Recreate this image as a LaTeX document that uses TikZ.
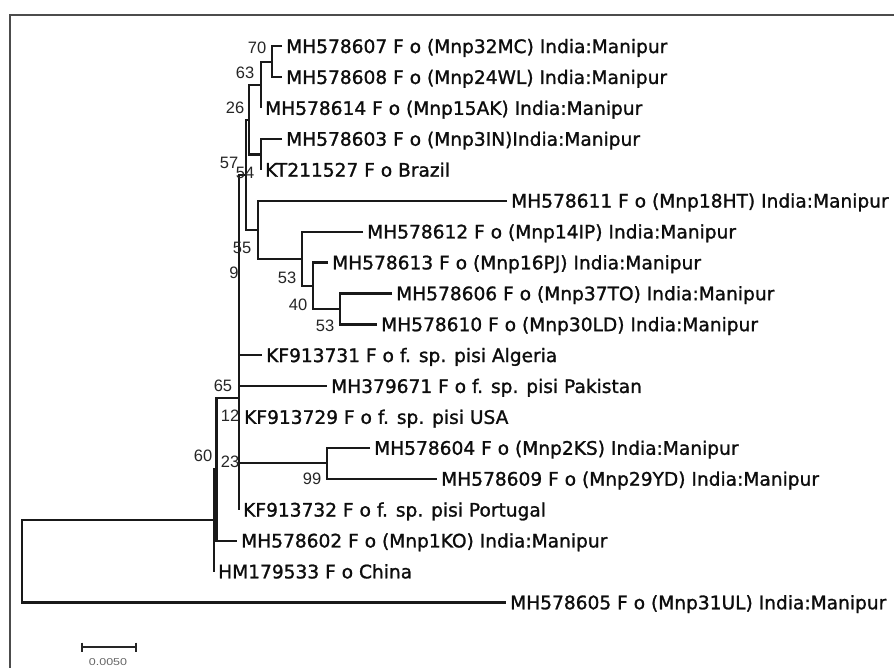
\documentclass[tikz,border=0pt]{standalone}
\usepackage{fontspec}
\setmainfont{DejaVu Sans}
\newfontfamily\taxfont[BoldFont={DejaVu Sans}, BoldFeatures={FakeBold=1.2}]{DejaVu Sans}
\newfontfamily\bsfont{Liberation Sans}
\begin{document}
\begin{tikzpicture}[x=1pt,y=-1pt,
  br/.style={line width=2.2pt, draw=black!90},
  leaf/.style={anchor=west, inner xsep=4pt, inner ysep=0pt, text height=13.5pt, text depth=0pt,
    font=\taxfont\bfseries\fontsize{18.6}{20}\selectfont, text=black!95},
  bs/.style={inner sep=0pt, font=\bsfont\fontsize{16.5}{18}\selectfont, text=black!85},
  framel/.style={line width=2.6pt, draw=black!70},
  sbar/.style={line width=2pt, draw=black!85}]
\fill[white] (0,0) rectangle (894,668);
\useasboundingbox (0,0) rectangle (894,668);
\draw[framel] (10,670) -- (10,15) -- (896,15);
% leaves
\node[leaf] (l607) at (282,46.3) {MH578607 F o (Mnp32MC) India:Manipur};
\node[leaf] (l608) at (282,77.2) {MH578608 F o (Mnp24WL) India:Manipur};
\node[leaf] (l614) at (261,108.1) {MH578614 F o (Mnp15AK) India:Manipur};
\node[leaf] (l603) at (282,139.0) {MH578603 F o (Mnp3IN)India:Manipur};
\node[leaf] (lKT) at (261,169.9) {KT211527 F o Brazil};
\node[leaf] (l611) at (507,200.8) {MH578611 F o (Mnp18HT) India:Manipur};
\node[leaf] (l612) at (363,231.7) {MH578612 F o (Mnp14IP) India:Manipur};
\node[leaf] (l613) at (328,262.6) {MH578613 F o (Mnp16PJ) India:Manipur};
\node[leaf] (l606) at (392,293.5) {MH578606 F o (Mnp37TO) India:Manipur};
\node[leaf] (l610) at (377,324.4) {MH578610 F o (Mnp30LD) India:Manipur};
\node[leaf] (lKFa) at (262,355.3) {KF913731 F o f. sp. pisi Algeria};
\node[leaf] (l671) at (327,386.2) {MH379671 F o f. sp. pisi Pakistan};
\node[leaf] (lKFb) at (240,417.1) {KF913729 F o f. sp. pisi USA};
\node[leaf] (l604) at (370,448.0) {MH578604 F o (Mnp2KS) India:Manipur};
\node[leaf] (l609) at (437,478.9) {MH578609 F o (Mnp29YD) India:Manipur};
\node[leaf] (lKFc) at (239,509.8) {KF913732 F o f. sp. pisi Portugal};
\node[leaf] (l602) at (237,540.7) {MH578602 F o (Mnp1KO) India:Manipur};
\node[leaf] (lHM) at (214,571.6) {HM179533 F o China};
\node[leaf] (l605) at (506,602.5) {MH578605 F o (Mnp31UL) India:Manipur};
% internal nodes
\coordinate (A1) at (272,61.75);
\coordinate (A2) at (261,84.9);
\coordinate (B) at (261,154.45);
\coordinate (C) at (249,119.7);
\coordinate (H) at (340,308.95);
\coordinate (G) at (313,285.8);
\coordinate (F) at (302,258.75);
\coordinate (E) at (258,229.8);
\coordinate (D) at (246,174.75);
\coordinate (P) at (239,398);
\coordinate (Q) at (327,463);
\coordinate (I) at (216.5,469);
\coordinate (J) at (214,520);
\coordinate (R) at (22,561);
% branches
\draw[br] (l607.west) -| (A1) |- (l608.west);
\draw[br] (A1) -| (A2) |- (l614.west);
\draw[br] (l603.west) -| (B) |- (lKT.west);
\draw[br] (A2) -| (C) |- (B);
\draw[br] (l606.west) -| (H) |- (l610.west);
\draw[br] (l613.west) -| (G) |- (H);
\draw[br] (l612.west) -| (F) |- (G);
\draw[br] (l611.west) -| (E) |- (F);
\draw[br] (C) -| (D) |- (E);
\draw[br] (l604.west) -| (Q) |- (l609.west);
\draw[br] (D) -| (P) |- (lKFc.west);
\draw[br] (P |- lKFa.west) -- (lKFa.west);
\draw[br] (P |- l671.west) -- (l671.west);
\draw[br] (P |- Q) -- (Q);
\draw[br] (P) -| (I) |- (l602.west);
\draw[br] (I) -| (J) |- (lHM.west);
\draw[br] (J) -| (R) |- (l605.west);
% bootstrap values
\node[bs] (b70) at (257,48) {70};
\node[bs] (b63) at (245,73) {63};
\node[bs] (b26) at (235,108) {26};
\node[bs] (b57) at (229,163) {57};
\node[bs] (b54) at (245,173) {54};
\node[bs] (b55) at (242,248) {55};
\node[bs] (b9) at (234,273) {9};
\node[bs] (b53a) at (287,278) {53};
\node[bs] (b40) at (298,305) {40};
\node[bs] (b53b) at (325,326) {53};
\node[bs] (b65) at (223,386) {65};
\node[bs] (b12) at (230,416) {12};
\node[bs] (b60) at (203,456) {60};
\node[bs] (b23) at (230,462) {23};
\node[bs] (b99) at (312,479) {99};
% scale bar
\coordinate (s1) at (82,647);
\coordinate (s2) at (136,647);
\draw[sbar] (s1) -- (s2);
\draw[sbar] ([yshift=4.5pt]s1) -- ([yshift=-4.5pt]s1);
\draw[sbar] ([yshift=4.5pt]s2) -- ([yshift=-4.5pt]s2);
\node[inner sep=0pt, font=\bsfont\fontsize{10}{11}\selectfont, text=black!60] (sl) at (108,662) {\scalebox{1.25}[1]{0.0050}};
\end{tikzpicture}
\end{document}
